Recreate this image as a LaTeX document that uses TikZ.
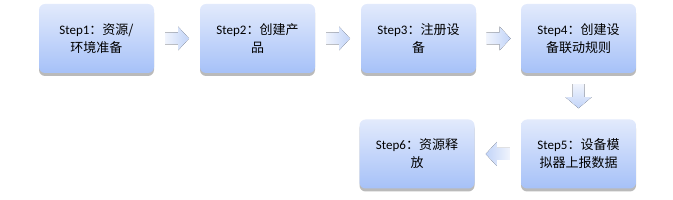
\documentclass[tikz,border=0pt]{standalone}
\usepackage{fontspec}
\setmainfont{Carlito}
\newfontfamily\cjk{Noto Sans CJK SC}
\usetikzlibrary{shadows,positioning}
\definecolor{boxtop}{HTML}{E2EAFC}
\definecolor{boxbot}{HTML}{A6C1F8}
\definecolor{arrA}{HTML}{F0F4FD}
\definecolor{arrB}{HTML}{C2D4F8}
\tikzset{
  stepbox/.style={rounded corners=6pt, minimum width=115pt, minimum height=69pt,
    top color=boxtop, bottom color=boxbot, draw=none,
    drop shadow={shadow xshift=0pt, shadow yshift=-3pt, opacity=0.45, fill=black!60},
    align=center, font=\fontsize{13}{18}\selectfont, text width=100pt, inner sep=0pt},
  arrowshape/.style={draw=none, left color=arrA, right color=arrB}
}
\begin{document}
\begin{tikzpicture}[x=1pt,y=1pt]
\useasboundingbox (0,0) rectangle (673,-200);
\node[stepbox] (s1) at (96.5,-38.5) {Step1{\cjk ：资源/\\环境准备}};
\node[stepbox] (s2) at (257.5,-38.5) {Step2{\cjk ：创建产\\品}};
\node[stepbox] (s3) at (418.5,-38.5) {Step3{\cjk ：注册设\\备}};
\node[stepbox] (s4) at (578.5,-38.5) {Step4{\cjk ：创建设\\备联动规则}};
\node[stepbox] (s5) at (578.5,-154) {Step5{\cjk ：设备模\\拟器上报数据}};
\node[stepbox] (s6) at (417,-154) {Step6{\cjk ：资源释\\放}};
% right arrows
\foreach \a/\b in {s1/s2,s2/s3,s3/s4}{
  \path (\a.east) -- (\b.west) coordinate[pos=0.5] (m\a);
  \fill[arrowshape] ([shift={(-12,-6)}]m\a) -- ++(13,0) -- ++(0,-6) -- ++(11,12) -- ++(-11,12) -- ++(0,-6) -- ++(-13,0) -- cycle;
}
% down arrow
\path (s4.south) -- (s5.north) coordinate[pos=0.5] (md);
\fill[draw=none, top color=arrA, bottom color=arrB] ([shift={(-6,12)}]md) -- ++(0,-13) -- ++(-7,0) -- ++(13,-11) -- ++(13,11) -- ++(-7,0) -- ++(0,13) -- cycle;
% left arrow
\path (s5.west) -- (s6.east) coordinate[pos=0.5] (ml);
\fill[draw=none, right color=arrA, left color=arrB] ([shift={(12,-6)}]ml) -- ++(-13,0) -- ++(0,-6) -- ++(-11,12) -- ++(11,12) -- ++(0,-6) -- ++(13,0) -- cycle;
\end{tikzpicture}
\end{document}
